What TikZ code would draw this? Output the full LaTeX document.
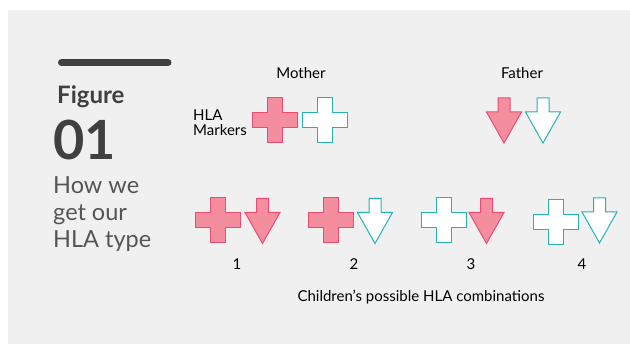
\documentclass[tikz,border=0pt]{standalone}
\usepackage{fontspec}
\setmainfont{Lato}
\begin{document}
\begin{tikzpicture}[x=1pt,y=-1pt,
  lbl/.style={font=\fontsize{15}{17}\selectfont, text=black, inner sep=0pt},
  pinkfill/.style={fill=hlapink, draw=hlapinkline, line width=1pt, line join=miter},
  tealfill/.style={fill=white, draw=hlateal, line width=1pt, line join=miter},
  pics/crossmark/.style={code={
    \path[#1] (-7.5,-22.5) -- (7.5,-22.5) -- (7.5,-7.5) -- (22.5,-7.5) -- (22.5,7.5) -- (7.5,7.5) -- (7.5,22.5) -- (-7.5,22.5) -- (-7.5,7.5) -- (-22.5,7.5) -- (-22.5,-7.5) -- (-7.5,-7.5) -- cycle;}},
  pics/arrowmark/.style={code={
    \path[#1] (-6,-22.5) -- (6,-22.5) -- (6,-8.5) -- (17.5,-8.5) -- (0,22.5) -- (-17.5,-8.5) -- (-6,-8.5) -- cycle;}}
]
\definecolor{hlapink}{HTML}{F48E9F}
\definecolor{hlapinkline}{HTML}{EC4C74}
\definecolor{hlateal}{HTML}{24B3B1}
\definecolor{bggray}{HTML}{F0F0F0}
\definecolor{darktext}{HTML}{404040}
\definecolor{midtext}{HTML}{555555}
\useasboundingbox (0,0) rectangle (630,344);
\fill[white] (0,0) rectangle (630,344);
\fill[bggray] (8,10) rectangle (630,344);
% title block
\draw[darktext, line width=7pt, line cap=round] (61.5,62.5) coordinate (barL) -- (168,62.5) coordinate (barR);
\node[anchor=base west, inner sep=0pt, text=darktext, font=\fontsize{24}{26}\selectfont\bfseries] (fig) at (57,104) {Figure};
\node[anchor=base west, inner sep=0pt, text=darktext, font=\fontsize{54}{58}\selectfont\bfseries] (num) at (53,160) {01};
\node[anchor=north west, inner sep=0pt, text=midtext, align=left, font=\fontsize{23.5}{27}\selectfont] (how) at (53,176) {How we\\get our\\HLA type};
% parents
\node[lbl, anchor=base] (mother) at (301,79) {Mother};
\node[lbl, anchor=base] (father) at (522,79) {Father};
\node[lbl, anchor=north west, align=left, font=\fontsize{15}{15}\selectfont] (markers) at (193,110) {HLA\\Markers};
\pic at (274.5,120) {crossmark=pinkfill};
\pic at (324.5,120) {crossmark=tealfill};
\pic at (504,120.5) {arrowmark=pinkfill};
\pic at (543,120.5) {arrowmark=tealfill};
% children
\pic at (217.5,220.5) {crossmark=pinkfill};
\pic at (262.5,221) {arrowmark=pinkfill};
\pic at (331,220.5) {crossmark=pinkfill};
\pic at (375,221) {arrowmark=tealfill};
\pic at (443.5,220.5) {crossmark=tealfill};
\pic at (486.5,221) {arrowmark=pinkfill};
\pic at (555.5,222.5) {crossmark=tealfill};
\pic at (599.5,220.5) {arrowmark=tealfill};
\node[lbl, anchor=base] (c1) at (237,270) {1};
\node[lbl, anchor=base] (c2) at (354,270) {2};
\node[lbl, anchor=base] (c3) at (471,270) {3};
\node[lbl, anchor=base] (c4) at (582,270) {4};
\node[lbl, anchor=base] (children) at (421,302) {Children’s possible HLA combinations};
\end{tikzpicture}
\end{document}
